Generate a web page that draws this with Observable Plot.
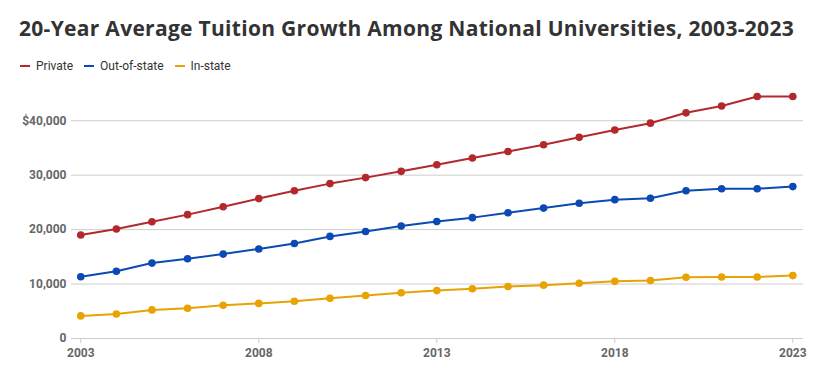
<!DOCTYPE html>
<html>
<head>
<meta charset="utf-8">
<script src="https://cdn.jsdelivr.net/npm/d3@7"></script>
<script src="https://cdn.jsdelivr.net/npm/@observablehq/plot@0.6"></script>
<style>
  html, body { margin: 0; padding: 0; background: #fff; }
  body { width: 832px; height: 382px; overflow: hidden; font-family: Roboto, "Noto Sans", sans-serif; }
  #title { position: absolute; left: 19px; top: 14px; font-family: "Open Sans", sans-serif; font-size: 21px; font-weight: 700; color: #333; white-space: nowrap; letter-spacing: 0.3px; }
  #legend { position: absolute; left: 20px; top: 59px; font-size: 12px; color: #333; display: flex; align-items: center; }
  #legend .item { display: flex; align-items: center; margin-right: 11px; }
  #legend .sw { width: 10px; height: 2px; margin-right: 6px; }
  #chart { position: absolute; left: 0; top: 80px; }
</style>
</head>
<body>
<div id="title">20-Year Average Tuition Growth Among National Universities, 2003-2023</div>
<div id="legend"></div>
<div id="chart"></div>
<script>
const years = [2003,2004,2005,2006,2007,2008,2009,2010,2011,2012,2013,2014,2015,2016,2017,2018,2019,2020,2021,2022,2023];
const seriesNames = ["Private", "Out-of-state", "In-state"];
const seriesColors = ["#b3282d", "#0b4ab3", "#e8a202"];
const privateTuition = [19000,20100,21450,22750,24200,25700,27150,28450,29550,30700,31900,33150,34350,35600,36950,38300,39550,41450,42700,44450,44450];
const outOfState = [11350,12350,13850,14650,15500,16450,17450,18750,19650,20650,21500,22200,23100,23950,24850,25500,25750,27150,27500,27500,27900];
const inState = [4150,4500,5250,5550,6100,6450,6850,7400,7900,8400,8800,9150,9550,9800,10150,10500,10650,11250,11300,11300,11550];
const yTicks = [0,10000,20000,30000,40000];
const xTicks = [2003,2008,2013,2018,2023];

const allValues = [privateTuition, outOfState, inState];
const data = [];
seriesNames.forEach((name, i) => {
  years.forEach((yr, j) => data.push({series: name, year: yr, value: allValues[i][j]}));
});

// legend
const legend = document.getElementById("legend");
seriesNames.forEach((name, i) => {
  const it = document.createElement("div");
  it.className = "item";
  it.innerHTML = `<span class="sw" style="background:${seriesColors[i]}"></span><span>${name}</span>`;
  legend.appendChild(it);
});

const fmt = d3.format(",");
const chart = Plot.plot({
  width: 832,
  height: 302,
  marginTop: 13,
  marginBottom: 44,
  marginLeft: 71,
  marginRight: 29,
  style: {fontFamily: "Roboto, sans-serif", fontSize: "12px", color: "#666", background: "transparent"},
  x: {domain: [2002.74, 2023.3], ticks: xTicks, tickFormat: d => String(d), label: null},
  y: {domain: [0, 45000], ticks: yTicks, label: null},
  color: {domain: seriesNames, range: seriesColors},
  marks: [
    Plot.gridY(yTicks.filter(d => d > 0), {stroke: "#ccc", strokeOpacity: 1, strokeWidth: 1}),
    Plot.ruleY([0], {stroke: "#ccc", strokeWidth: 1.2}),
    Plot.axisX({ticks: xTicks, tickSize: 5, tickPadding: 5, stroke: "#ccc", fontWeight: 700, fill: "#666", tickFormat: d => String(d), fontSize: 12, label: null}),
    Plot.axisY({ticks: yTicks, tickSize: 0, tickPadding: 5, fontWeight: 700, fill: "#666", fontSize: 12, label: null,
      tickFormat: d => d === 40000 ? "$" + fmt(d) : fmt(d)}),
    Plot.line(data, {x: "year", y: "value", z: "series", stroke: "series", strokeWidth: 2}),
    Plot.dot(data, {x: "year", y: "value", fill: "series", r: 3.8, stroke: "none"})
  ]
});
document.getElementById("chart").appendChild(chart);
</script>
</body>
</html>
